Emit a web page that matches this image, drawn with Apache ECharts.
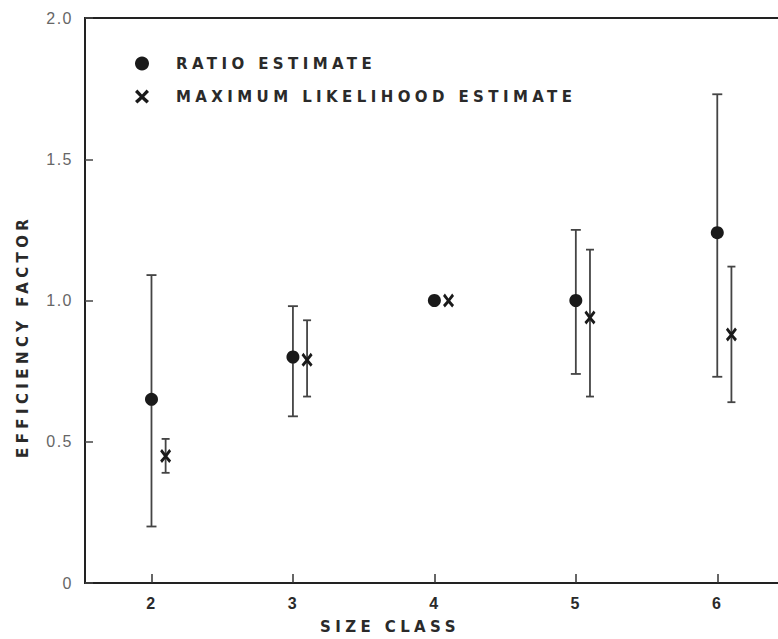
<!DOCTYPE html>
<html>
<head>
<meta charset="utf-8">
<script src="https://cdn.jsdelivr.net/npm/echarts@6/dist/echarts.min.js"></script>
<style>
html,body{margin:0;padding:0;background:#fff;}
#chart{width:778px;height:639px;}
#chart text[style*="DejaVu"]{letter-spacing:4.4px;}
#chart text[style*="Liberation"]{letter-spacing:1.5px;}
</style>
</head>
<body>
<div id="chart"></div>
<script>
// ---- data ----
const sizeClass = [2, 3, 4, 5, 6];
const ratioEst  = [0.65, 0.80, 1.00, 1.00, 1.24];
const ratioLow  = [0.20, 0.59, null, 0.74, 0.73];
const ratioHigh = [1.09, 0.98, null, 1.25, 1.73];
const mleEst    = [0.45, 0.79, 1.00, 0.94, 0.88];
const mleLow    = [0.39, 0.66, null, 0.66, 0.64];
const mleHigh   = [0.51, 0.93, null, 1.18, 1.12];
const mleOffset = 0.1;
const yTicks = [0, 0.5, 1.0, 1.5, 2.0];
const xTicks = [2, 3, 4, 5, 6];
const seriesNames = ['RATIO ESTIMATE', 'MAXIMUM LIKELIHOOD ESTIMATE'];
const xName = 'SIZE CLASS';
const yName = 'EFFICIENCY FACTOR';

const ratioPts = sizeClass.map((c, i) => [c, ratioEst[i]]);
const mleX = sizeClass.map(c => c + mleOffset);
const mlePts = mleX.map((c, i) => [c, mleEst[i]]);
const ratioBars = sizeClass.map((c, i) => [c, ratioLow[i], ratioHigh[i]]).filter(d => d[1] != null);
const mleBars = mleX.map((c, i) => [c, mleLow[i], mleHigh[i]]).filter(d => d[1] != null);

const xShape = 'path://M0,1.7L1.7,0L5,3.5L8.3,0L10,1.7L6.6,5.2L10,8.3L8.3,10L5,6.9L1.7,10L0,8.3L3.4,5.2Z';
const ink = '#1a1a1a';
const barColor = '#444';
const labelInk = '#2a2a2a';

function errorBar(capHalf) {
  return function (params, api) {
    const x = api.value(0);
    const lo = api.coord([x, api.value(1)]);
    const hi = api.coord([x, api.value(2)]);
    const st = { stroke: barColor, lineWidth: 1.8 };
    return {
      type: 'group',
      children: [
        { type: 'line', shape: { x1: lo[0], y1: lo[1], x2: hi[0], y2: hi[1] }, style: st },
        { type: 'line', shape: { x1: lo[0] - capHalf, y1: lo[1], x2: lo[0] + capHalf, y2: lo[1] }, style: st },
        { type: 'line', shape: { x1: hi[0] - capHalf, y1: hi[1], x2: hi[0] + capHalf, y2: hi[1] }, style: st }
      ]
    };
  };
}

const chart = echarts.init(document.getElementById('chart'), null, { renderer: 'svg' });
chart.setOption({
  animation: false,
  backgroundColor: '#fff',
  grid: {
    left: 85, top: 18, bottom: 56, right: -10,
    show: true, borderColor: '#222', borderWidth: 2,
    containLabel: false, outerBoundsMode: 'none'
  },
  legend: {
    orient: 'vertical', left: 130, top: 51,
    itemWidth: 14, itemHeight: 14, itemGap: 18,
    data: [
      { name: seriesNames[0], icon: 'circle' },
      { name: seriesNames[1], icon: xShape }
    ],
    textStyle: { fontFamily: 'DejaVu Sans', fontSize: 15, fontWeight: 'bold', color: labelInk, padding: [0, 0, 0, 22] }
  },
  xAxis: {
    type: 'value', min: 1.53, max: 6.5,
    splitLine: { show: false },
    axisLine: { onZero: false, lineStyle: { color: '#222', width: 2 } },
    axisTick: { inside: true, length: 9, customValues: xTicks, lineStyle: { color: '#333', width: 1.5 } },
    axisLabel: { customValues: xTicks, margin: 12, fontFamily: 'Liberation Sans', fontSize: 16, color: labelInk, fontWeight: 'bold' }
  },
  yAxis: {
    type: 'value', min: 0, max: 2, interval: 0.5,
    splitLine: { show: false },
    axisLine: { show: true, lineStyle: { color: '#222', width: 2 } },
    axisTick: { show: true, inside: true, length: 8, lineStyle: { color: '#444', width: 1.5 } },
    axisLabel: { margin: 12, fontFamily: 'Liberation Sans', fontSize: 16, color: '#666',
      formatter: v => (v === 0 ? '0' : v.toFixed(1)) }
  },
  graphic: [
    { type: 'text', left: 320, top: 619, style: { text: xName, fontFamily: 'DejaVu Sans', fontSize: 15, fontWeight: 'bold', fill: labelInk } },
    { type: 'text', x: 15, y: 458, rotation: Math.PI / 2,
      style: { text: yName, fontFamily: 'DejaVu Sans', fontSize: 15, fontWeight: 'bold', fill: labelInk, align: 'left', verticalAlign: 'top' } }
  ],
  series: [
    { type: 'custom', name: 'ratioBars', data: ratioBars, renderItem: errorBar(5), z: 1, silent: true },
    { type: 'custom', name: 'mleBars', data: mleBars, renderItem: errorBar(4), z: 1, silent: true },
    { type: 'scatter', name: seriesNames[0], data: ratioPts, symbol: 'circle', symbolSize: 13,
      itemStyle: { color: ink, opacity: 1 }, z: 3 },
    { type: 'scatter', name: seriesNames[1], data: mlePts, symbol: xShape, symbolSize: [11, 14],
      itemStyle: { color: ink, opacity: 1 }, z: 3 }
  ]
});
</script>
</body>
</html>
